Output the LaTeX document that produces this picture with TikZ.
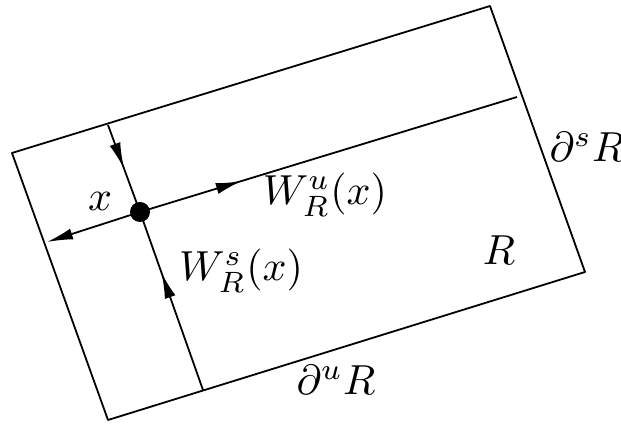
\documentclass[tikz,border=0pt]{standalone}
\usetikzlibrary{arrows.meta,decorations.markings}
\begin{document}
\begin{tikzpicture}[x=0.25pt,y=-0.25pt,
  edge/.style={line width=0.45pt,line join=round},
  lbl/.style={inner sep=0pt,scale=1.05},
  tipshape/.tip={Latex[length=6.5pt,width=2.8pt]},
  midarrow/.style={postaction={decorate},decoration={markings,
     mark=at position #1 with {\arrow{tipshape}}}}
]
\useasboundingbox (0,0) rectangle (621,426);
% corners of R
\coordinate (TL) at (12,153);
\coordinate (TR) at (490,6);
\coordinate (BR) at (585,272);
\coordinate (BL) at (108,420);
\draw[edge] (TL) -- (TR) -- (BR) -- (BL) -- cycle;
% manifold ends
\coordinate (st) at (108,125);
\coordinate (sb) at (203,390);
\coordinate (ul) at (47,242);
\coordinate (ur) at (517,97);
\node[circle,fill=black,inner sep=0pt,minimum size=5pt] (x) at (140,212) {};
% stable manifold (arrows toward x)
\draw[edge,midarrow=0.5] (st) -- (x.center);
\draw[edge,midarrow=0.66] (sb) -- (x.center);
% unstable manifold (arrows away from x)
\draw[edge,midarrow=0.27] (x.center) -- (ur);
\draw[edge,-tipshape] (x.center) -- (ul);
% labels
\node[lbl] (lx) at (100,201) {$x$};
\node[lbl] (lwu) at (325,195) {$W^u_R(x)$};
\node[lbl] (lws) at (241,271) {$W^s_R(x)$};
\node[lbl] (lR) at (499,250) {$R$};
\node[lbl] (lds) at (587,147) {$\partial^s R$};
\node[lbl] (ldu) at (336,380) {$\partial^u R$};
\end{tikzpicture}
\end{document}
